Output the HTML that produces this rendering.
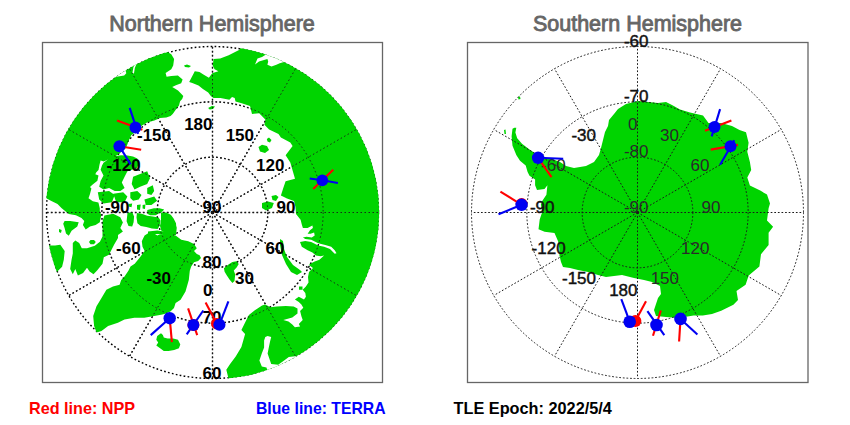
<!DOCTYPE html><html><head><meta charset="utf-8"><style>html,body{margin:0;padding:0;background:#fff;width:850px;height:425px;overflow:hidden}svg{display:block}text{font-family:"Liberation Sans",sans-serif}</style></head><body>
<svg width="850" height="425" viewBox="0 0 850 425">
<rect width="850" height="425" fill="#fff"/>
<g fill="none" stroke="#000" stroke-width="1.4" stroke-dasharray="1.7 2.3"><circle cx="212.5" cy="212.5" r="55.33"/><circle cx="212.5" cy="212.5" r="110.66"/><circle cx="212.5" cy="212.5" r="165.99"/><line x1="212.5" y1="212.5" x2="212.50" y2="378.49"/><line x1="212.5" y1="212.5" x2="295.50" y2="356.25"/><line x1="212.5" y1="212.5" x2="356.25" y2="295.50"/><line x1="212.5" y1="212.5" x2="378.49" y2="212.50"/><line x1="212.5" y1="212.5" x2="356.25" y2="129.51"/><line x1="212.5" y1="212.5" x2="295.50" y2="68.75"/><line x1="212.5" y1="212.5" x2="212.50" y2="46.51"/><line x1="212.5" y1="212.5" x2="129.50" y2="68.75"/><line x1="212.5" y1="212.5" x2="68.75" y2="129.50"/><line x1="212.5" y1="212.5" x2="46.51" y2="212.50"/><line x1="212.5" y1="212.5" x2="68.75" y2="295.50"/><line x1="212.5" y1="212.5" x2="129.50" y2="356.25"/></g>
<defs><clipPath id="cn"><circle cx="212.5" cy="212.5" r="166.7"/></clipPath><clipPath id="cs"><circle cx="637.5" cy="212.5" r="166.7"/></clipPath></defs>
<g clip-path="url(#cn)"><path fill="#00d400" d="M150.0,30.0 L160.0,53.3 L167.5,51.9 L171.3,54.2 L174.1,58.9 L173.2,65.5 L171.3,69.3 L165.6,73.1 L166.6,76.8 L171.3,75.9 L177.9,75.4 L182.6,79.6 L181.2,83.2 L175.9,85.3 L172.2,86.9 L174.8,88.5 L178.0,90.6 L181.2,93.8 L183.3,95.9 L182.2,99.0 L180.1,101.2 L179.0,105.4 L175.9,109.6 L172.7,113.9 L170.6,116.0 L166.3,117.6 L160.0,118.1 L154.4,120.4 L147.0,122.5 L141.7,125.7 L135.4,132.0 L131.2,135.2 L129.0,140.0 L126.0,148.0 L120.0,153.0 L115.4,156.3 L110.1,158.5 L103.8,161.6 L100.6,160.6 L99.5,164.8 L98.5,170.1 L96.3,172.2 L95.3,174.3 L98.5,175.4 L97.4,180.7 L92.1,184.9 L90.0,187.0 L91.4,188.5 L90.0,194.1 L88.5,198.3 L92.8,201.2 L98.4,202.6 L99.8,208.2 L99.8,211.0 L101.2,215.3 L99.8,222.3 L95.6,225.1 L90.0,226.5 L85.7,229.4 L82.9,225.1 L84.3,220.9 L81.5,218.1 L75.9,215.3 L68.8,213.9 L66.0,211.7 L61.7,208.2 L57.5,204.0 L51.9,201.2 L46.2,198.3 L20.0,198.0 L20.0,20.0Z M240.0,30.0 L240.0,49.5 L228.7,55.2 L220.2,58.5 L213.6,58.9 L212.7,65.5 L214.6,69.3 L218.4,71.2 L212.7,73.1 L211.7,74.1 L208.9,77.8 L204.2,74.9 L199.5,72.1 L194.8,71.2 L189.2,82.0 L192.3,82.9 L198.5,85.6 L202.9,89.1 L208.2,92.6 L210.8,96.1 L213.5,97.9 L220.5,97.9 L229.4,99.7 L232.0,97.0 L234.7,97.9 L235.5,101.4 L241.7,103.2 L250.0,106.0 L252.0,114.0 L259.2,113.3 L265.3,119.5 L264.4,124.7 L269.1,129.4 L278.5,134.1 L280.9,137.6 L290.3,142.4 L292.6,145.9 L285.6,155.3 L290.3,162.4 L292.6,170.6 L295.0,178.8 L285.6,181.2 L283.2,188.2 L280.9,195.5 L287.0,198.5 L294.0,201.0 L295.5,207.0 L296.0,214.0 L300.6,219.7 L301.8,224.4 L302.9,227.9 L307.6,227.9 L312.4,225.6 L312.9,227.9 L310.0,230.3 L307.6,233.8 L310.6,233.8 L314.1,232.6 L314.7,235.6 L311.8,237.4 L306.5,236.8 L302.9,237.4 L305.3,239.1 L311.2,239.7 L318.2,243.2 L325.3,245.0 L331.2,246.8 L334.7,250.3 L336.5,253.2 L334.7,253.8 L330.0,249.1 L324.1,246.8 L318.2,245.6 L311.2,242.1 L305.3,240.9 L300.0,242.1 L301.8,246.8 L307.6,250.3 L312.4,252.6 L315.9,255.6 L320.6,256.2 L324.1,255.6 L319.4,259.7 L314.7,261.5 L311.2,263.2 L308.8,265.0 L313.0,268.0 L309.0,272.0 L308.0,277.0 L308.5,282.6 L305.9,286.5 L302.7,289.7 L305.3,292.9 L305.9,296.8 L304.0,299.4 L298.8,296.8 L294.9,299.4 L298.8,302.0 L301.4,304.6 L303.3,307.8 L300.1,311.0 L301.4,316.2 L302.7,320.1 L298.8,324.0 L300.1,326.6 L294.9,327.2 L292.3,324.6 L288.5,321.4 L283.3,320.1 L292.3,317.5 L297.5,313.6 L297.5,308.5 L293.6,306.5 L285.9,305.9 L276.8,306.5 L270.3,307.2 L265.2,304.6 L262.1,305.6 L254.5,310.4 L248.9,315.1 L245.1,322.6 L241.4,330.1 L245.1,333.9 L241.4,347.1 L235.7,356.5 L230.1,364.0 L226.3,369.7 L228.2,377.2 L226.0,400.0 L420.0,400.0 L420.0,30.0Z M144.6,235.5 L148.9,232.7 L153.1,232.7 L157.3,235.5 L161.5,233.4 L168.6,234.1 L175.6,235.5 L181.3,239.7 L188.3,241.2 L194.0,244.0 L196.8,248.2 L194.0,251.0 L196.8,253.9 L199.6,255.3 L201.0,258.1 L198.2,260.9 L194.0,262.3 L191.2,266.5 L189.8,270.8 L188.8,279.9 L185.5,291.4 L180.6,299.7 L175.6,303.0 L174.0,307.9 L170.7,311.2 L166.0,313.5 L162.4,314.5 L154.2,316.1 L144.3,317.8 L134.4,317.8 L124.5,319.4 L117.9,322.7 L108.1,326.0 L101.5,331.0 L96.5,332.6 L94.1,326.0 L93.2,316.1 L96.5,306.2 L101.5,298.0 L106.4,289.8 L113.0,286.5 L119.6,284.8 L121.2,279.9 L124.5,276.6 L128.4,270.8 L130.5,266.5 L134.7,263.7 L140.4,256.7 L144.6,251.0 L142.5,246.8 L141.8,241.2 L143.2,238.3Z M157.2,336.0 L161.0,333.2 L162.9,335.1 L163.8,337.4 L167.6,338.4 L173.2,338.4 L178.0,339.8 L180.3,344.5 L178.9,348.2 L174.2,350.1 L168.5,351.1 L163.8,351.1 L160.1,348.2 L156.3,345.4 L158.2,342.6 L156.3,339.8Z M223.9,268.2 L228.1,264.7 L232.4,261.9 L236.6,261.2 L238.7,264.0 L236.6,267.5 L233.8,270.4 L235.2,274.6 L234.5,281.0 L232.4,283.1 L229.5,279.5 L226.7,275.3 L224.6,271.8Z M280.0,239.0 L283.0,241.0 L284.0,249.0 L287.0,257.0 L293.0,265.0 L300.0,270.0 L302.0,272.0 L297.0,275.0 L291.0,272.0 L286.0,264.0 L282.0,255.0 L280.0,245.0Z M262.0,203.0 L268.0,201.5 L273.8,203.0 L272.0,208.0 L266.0,210.6 L262.0,208.0Z M258.5,147.0 L262.0,144.7 L267.0,146.0 L269.0,150.0 L265.0,153.0 L260.0,151.5Z M266.8,139.0 L269.0,137.6 L271.5,140.0 L270.0,142.4 L267.5,141.5Z M271.5,196.0 L276.0,195.0 L278.5,197.0 L276.0,201.0 L272.5,200.0Z M208.1,108.0 L211.9,105.9 L215.0,106.5 L212.9,109.1 L209.7,109.6Z M184.0,65.5 L187.0,64.6 L191.0,66.0 L189.0,67.4 L185.0,67.0Z M20.0,245.6 L55.0,245.6 L60.3,244.7 L64.7,250.9 L63.8,259.7 L62.1,266.7 L56.8,272.0 L40.0,290.0 L20.0,290.0Z M64.6,220.9 L70.2,220.9 L78.7,222.3 L77.3,226.5 L71.6,230.8 L68.8,235.7 L66.0,233.6 L64.6,228.0 L63.2,223.7Z M59.0,229.0 L61.7,230.0 L61.0,233.0 L59.0,232.0Z M104.4,215.6 L113.2,213.8 L120.3,217.3 L122.9,222.6 L120.3,227.9 L122.9,231.5 L118.0,235.0 L118.0,237.9 L114.2,244.4 L109.0,254.8 L103.8,257.3 L102.5,263.8 L97.3,270.3 L93.5,274.2 L89.6,271.6 L87.0,267.7 L83.1,272.9 L77.9,275.5 L75.3,269.0 L72.8,274.2 L70.2,269.0 L71.5,259.9 L72.8,253.5 L72.8,243.1 L75.3,240.5 L79.2,243.1 L81.8,248.3 L87.0,248.3 L94.8,245.7 L99.9,241.8 L102.5,236.6 L102.5,230.2 L102.6,220.9Z M102.0,165.5 L103.5,162.7 L108.0,159.5 L114.7,156.3 L121.0,155.3 L127.4,155.6 L133.0,156.5 L137.3,158.5 L139.0,163.0 L137.0,168.0 L131.0,170.0 L127.4,171.2 L124.6,176.8 L121.8,182.4 L124.6,188.1 L120.4,190.9 L114.7,190.9 L109.1,188.1 L103.5,189.5 L99.2,186.7 L100.6,181.0 L103.5,175.4 L100.6,169.7Z M133.1,176.8 L140.1,174.0 L147.2,171.2 L150.0,178.2 L147.2,183.9 L140.1,186.7 L134.5,189.5 L131.7,183.9Z M130.3,192.3 L137.3,190.9 L141.5,195.1 L138.7,199.4 L133.1,200.8 L130.3,198.0Z M147.2,188.1 L152.8,185.3 L154.2,190.9 L151.4,195.1 L147.2,193.7Z M127.5,212.9 L132.2,212.0 L134.1,216.6 L133.6,222.3 L132.2,226.5 L128.5,226.0 L126.6,221.3 L127.1,216.6Z M136.9,212.9 L141.6,213.8 L147.3,215.7 L152.9,216.6 L158.6,217.6 L160.5,220.4 L159.5,226.0 L157.6,228.9 L152.0,228.4 L146.3,227.0 L140.7,226.0 L137.4,223.2 L136.5,217.6Z M147.3,210.0 L153.9,208.2 L159.5,208.2 L164.2,209.6 L162.3,211.5 L159.5,212.9 L155.7,215.2 L150.1,215.2 L147.3,213.8Z M161.0,212.4 L166.1,212.4 L170.8,214.8 L173.6,218.5 L176.0,223.2 L176.4,229.8 L174.6,233.1 L167.0,232.6 L161.4,230.7 L160.0,226.0 L161.0,220.4Z M148.0,231.5 L157.3,230.6 L167.2,232.0 L174.6,233.1 L177.0,225.6 L176.0,235.0 L160.0,234.0 L148.0,233.5Z M299.0,286.5 L302.5,286.5 L302.5,289.7 L299.0,289.7Z M142.6,205.0 L145.4,204.4 L145.0,209.1 L142.6,208.5Z M137.0,205.0 L140.7,204.4 L140.0,210.0 L137.0,209.5Z M128.5,204.0 L132.2,203.5 L131.5,207.2 L128.5,206.5Z M89.0,242.0 L90.5,240.0 L94.0,240.0 L95.8,242.0 L94.0,244.2 L90.5,244.2Z M144.4,199.4 L154.2,196.5 L157.1,200.8 L151.4,205.0 L145.8,205.0Z M97.8,192.3 L109.1,190.9 L114.7,195.1 L111.9,202.2 L103.5,203.6 L99.2,199.4Z M113.3,193.7 L123.2,192.3 L127.4,196.5 L124.6,202.2 L116.2,202.2Z"/>
<path fill="#fff" d="M267.6,335.9 L271.2,337.1 L270.0,341.8 L268.8,347.6 L267.6,353.5 L270.0,360.6 L271.2,364.1 L278.2,364.7 L284.1,360.6 L288.8,357.1 L297.1,355.9 L302.0,365.0 L270.0,380.0 L266.5,367.6 L261.8,366.5 L259.4,360.6 L261.8,353.5 L264.1,347.6 L264.1,340.6 L265.3,337.1Z M266.0,54.5 L262.0,57.0 L257.5,58.5 L255.0,64.5 L259.0,61.5 L267.4,59.1 L268.2,61.5 L267.4,64.8 L271.5,66.5 L276.4,64.8 L279.7,63.2 L284.0,62.0 L284.0,55.0 L270.0,50.0Z M110.0,79.0 L115.0,76.9 L124.2,75.5 L126.3,73.3 L125.6,70.5 L127.7,68.4 L132.6,65.6 L130.0,60.0 L105.0,70.0Z"/>
<g stroke="#fff" stroke-width="1.6" fill="none" stroke-linecap="round"><polyline points="135.5,64.2 134.1,67.7 133.3,72.6"/></g>
</g>
<g clip-path="url(#cs)"><path fill="#00d400" d="M514.4,127.8 L516.3,127.8 L515.4,132.5 L517.2,138.2 L522.0,143.8 L529.5,149.5 L535.1,153.2 L542.7,157.0 L552.1,158.9 L560.0,162.0 L566.0,166.0 L574.0,168.0 L586.0,166.0 L594.0,162.0 L599.0,155.0 L601.0,148.0 L603.0,140.0 L605.0,132.0 L608.0,126.0 L609.0,120.0 L614.0,114.0 L618.0,109.0 L626.0,104.0 L638.0,101.0 L648.0,102.0 L658.0,103.0 L666.0,102.0 L672.0,105.0 L680.0,109.5 L690.0,112.5 L703.0,115.5 L708.5,123.0 L721.0,123.0 L732.0,126.0 L739.5,130.0 L746.0,132.3 L748.6,142.7 L747.3,151.8 L749.9,162.1 L751.2,169.9 L747.3,177.6 L749.9,185.4 L760.2,190.6 L767.0,194.6 L770.0,203.5 L768.6,208.3 L767.0,220.6 L773.1,226.7 L768.6,232.8 L768.6,245.0 L761.0,254.2 L759.4,266.5 L748.7,275.6 L745.6,284.8 L736.5,290.9 L738.0,300.1 L733.4,304.7 L727.3,307.7 L721.2,310.8 L712.0,313.9 L702.8,315.4 L693.6,315.4 L684.5,317.0 L678.0,318.0 L666.0,317.0 L656.0,316.0 L654.0,310.0 L656.0,304.0 L658.0,298.0 L661.0,294.0 L660.0,286.0 L652.0,282.0 L644.0,280.0 L634.0,278.0 L622.0,275.0 L614.0,276.0 L606.0,277.0 L598.0,275.0 L588.0,272.0 L578.0,270.0 L570.0,268.0 L563.0,267.0 L561.0,262.0 L559.4,255.2 L559.4,249.0 L558.2,241.6 L554.5,233.0 L544.6,231.7 L538.5,229.3 L539.7,219.4 L542.2,212.0 L540.9,204.6 L542.7,200.3 L546.4,194.7 L547.4,185.3 L544.5,189.0 L537.0,190.0 L535.1,185.3 L535.1,179.6 L529.5,175.8 L527.6,172.1 L525.7,165.5 L520.0,160.8 L516.3,155.1 L512.5,145.7 L511.6,136.3 L512.5,128.8Z M518.0,97.0 L520.0,96.5 L520.5,99.0 L518.5,99.5Z M504.0,130.0 L505.5,129.5 L506.0,134.0 L504.5,134.0Z"/></g>
<g fill="none" stroke="#1a1a1a" stroke-width="0.9" stroke-dasharray="1.5 2.5"><circle cx="212.5" cy="212.5" r="55.33"/><circle cx="212.5" cy="212.5" r="110.66"/><line x1="212.5" y1="212.5" x2="212.50" y2="378.49"/><line x1="212.5" y1="212.5" x2="295.50" y2="356.25"/><line x1="212.5" y1="212.5" x2="356.25" y2="295.50"/><line x1="212.5" y1="212.5" x2="378.49" y2="212.50"/><line x1="212.5" y1="212.5" x2="356.25" y2="129.51"/><line x1="212.5" y1="212.5" x2="295.50" y2="68.75"/><line x1="212.5" y1="212.5" x2="212.50" y2="46.51"/><line x1="212.5" y1="212.5" x2="129.50" y2="68.75"/><line x1="212.5" y1="212.5" x2="68.75" y2="129.50"/><line x1="212.5" y1="212.5" x2="46.51" y2="212.50"/><line x1="212.5" y1="212.5" x2="68.75" y2="295.50"/><line x1="212.5" y1="212.5" x2="129.50" y2="356.25"/></g>
<g fill="none" stroke="#1a1a1a" stroke-width="1.0" stroke-dasharray="1.7 1.9"><circle cx="637.5" cy="212.5" r="55.33"/><circle cx="637.5" cy="212.5" r="110.66"/><circle cx="637.5" cy="212.5" r="165.99"/><line x1="637.5" y1="212.5" x2="637.50" y2="46.51"/><line x1="637.5" y1="212.5" x2="720.50" y2="68.75"/><line x1="637.5" y1="212.5" x2="781.25" y2="129.50"/><line x1="637.5" y1="212.5" x2="803.49" y2="212.50"/><line x1="637.5" y1="212.5" x2="781.25" y2="295.49"/><line x1="637.5" y1="212.5" x2="720.50" y2="356.25"/><line x1="637.5" y1="212.5" x2="637.50" y2="378.49"/><line x1="637.5" y1="212.5" x2="554.50" y2="356.25"/><line x1="637.5" y1="212.5" x2="493.75" y2="295.50"/><line x1="637.5" y1="212.5" x2="471.51" y2="212.50"/><line x1="637.5" y1="212.5" x2="493.75" y2="129.50"/><line x1="637.5" y1="212.5" x2="554.50" y2="68.75"/></g>
<rect x="42.5" y="42.5" width="340" height="340" fill="none" stroke="#666" stroke-width="1.3"/>
<rect x="467.5" y="42.5" width="340.5" height="340" fill="none" stroke="#666" stroke-width="1.3"/>
<text x="171.0" y="140.6" font-size="17" font-weight="bold" fill="#000" text-anchor="end">-150</text>
<text x="140.6" y="171.0" font-size="17" font-weight="bold" fill="#000" text-anchor="end">-120</text>
<text x="129.5" y="212.5" font-size="17" font-weight="bold" fill="#000" text-anchor="end">-90</text>
<text x="140.6" y="254.0" font-size="17" font-weight="bold" fill="#000" text-anchor="end">-60</text>
<text x="171.0" y="284.4" font-size="17" font-weight="bold" fill="#000" text-anchor="end">-30</text>
<text x="212.5" y="295.5" font-size="17" font-weight="bold" fill="#000" text-anchor="end">0</text>
<text x="254.0" y="284.4" font-size="17" font-weight="bold" fill="#000" text-anchor="end">30</text>
<text x="284.4" y="254.0" font-size="17" font-weight="bold" fill="#000" text-anchor="end">60</text>
<text x="295.5" y="212.5" font-size="17" font-weight="bold" fill="#000" text-anchor="end">90</text>
<text x="284.4" y="171.0" font-size="17" font-weight="bold" fill="#000" text-anchor="end">120</text>
<text x="254.0" y="140.6" font-size="17" font-weight="bold" fill="#000" text-anchor="end">150</text>
<text x="212.5" y="129.5" font-size="17" font-weight="bold" fill="#000" text-anchor="end">180</text>
<text x="221.5" y="212.5" font-size="17" font-weight="bold" fill="#000" text-anchor="end">90</text>
<text x="221.5" y="267.8" font-size="17" font-weight="bold" fill="#000" text-anchor="end">80</text>
<text x="221.5" y="323.2" font-size="17" font-weight="bold" fill="#000" text-anchor="end">70</text>
<text x="221.5" y="378.5" font-size="17" font-weight="bold" fill="#000" text-anchor="end">60</text>
<text x="596.0" y="284.4" font-size="17" fill="#111" stroke="#111" stroke-width="0.45" text-anchor="end">-150</text>
<text x="565.6" y="254.0" font-size="17" fill="#111" stroke="#111" stroke-width="0.45" text-anchor="end">-120</text>
<text x="554.5" y="212.5" font-size="17" fill="#111" stroke="#111" stroke-width="0.45" text-anchor="end">-90</text>
<text x="565.6" y="171.0" font-size="17" fill="#2a2a2a" text-anchor="end">-60</text>
<text x="596.0" y="140.6" font-size="17" fill="#111" stroke="#111" stroke-width="0.45" text-anchor="end">-30</text>
<text x="637.5" y="129.5" font-size="17" fill="#2a2a2a" text-anchor="end">0</text>
<text x="679.0" y="140.6" font-size="17" fill="#2a2a2a" text-anchor="end">30</text>
<text x="709.4" y="171.0" font-size="17" fill="#2a2a2a" text-anchor="end">60</text>
<text x="720.5" y="212.5" font-size="17" fill="#2a2a2a" text-anchor="end">90</text>
<text x="709.4" y="254.0" font-size="17" fill="#2a2a2a" text-anchor="end">120</text>
<text x="679.0" y="284.4" font-size="17" fill="#2a2a2a" text-anchor="end">150</text>
<text x="637.5" y="295.5" font-size="17" fill="#111" stroke="#111" stroke-width="0.45" text-anchor="end">180</text>
<text x="648.5" y="212.5" font-size="17" fill="#2a2a2a" text-anchor="end">-90</text>
<text x="648.5" y="157.2" font-size="17" fill="#2a2a2a" text-anchor="end">-80</text>
<text x="648.5" y="101.8" font-size="17" fill="#111" stroke="#111" stroke-width="0.45" text-anchor="end">-70</text>
<text x="648.5" y="46.5" font-size="17" fill="#111" stroke="#111" stroke-width="0.45" text-anchor="end">-60</text>
<g stroke-width="2.1" stroke-linecap="butt"><line x1="129.7" y1="107.8" x2="138.2" y2="133.9" stroke="#0000f2"/><line x1="117" y1="120.5" x2="142.4" y2="129.7" stroke="#ff0000"/><line x1="119.4" y1="146.2" x2="141.2" y2="149.7" stroke="#ff0000"/><line x1="119.4" y1="146.2" x2="130.6" y2="164.4" stroke="#0000f2"/><line x1="313.2" y1="189.1" x2="333.2" y2="169.7" stroke="#ff0000"/><line x1="309.7" y1="178.5" x2="322.3" y2="180.3" stroke="#0000f2"/><line x1="322.3" y1="180.3" x2="337.9" y2="183" stroke="#0000f2"/><line x1="169.7" y1="318.2" x2="150.7" y2="335.1" stroke="#0000f2"/><line x1="169.7" y1="318.2" x2="171.9" y2="342.2" stroke="#ff0000"/><line x1="188.1" y1="308.3" x2="197.2" y2="335.1" stroke="#ff0000"/><line x1="203.3" y1="310.5" x2="186.7" y2="334.4" stroke="#0000f2"/><line x1="205.6" y1="302.4" x2="216.7" y2="323.6" stroke="#ff0000"/><line x1="228.4" y1="301.4" x2="219.4" y2="324.7" stroke="#0000f2"/><line x1="538.1" y1="157.8" x2="563.2" y2="158.7" stroke="#0000f2"/><line x1="538.1" y1="157.8" x2="551.5" y2="177.1" stroke="#ff0000"/><line x1="500.4" y1="191.6" x2="521.6" y2="204.8" stroke="#ff0000"/><line x1="521.6" y1="204.8" x2="498.5" y2="214.2" stroke="#0000f2"/><line x1="720.1" y1="109.1" x2="711.7" y2="136.4" stroke="#0000f2"/><line x1="705" y1="130.8" x2="731.4" y2="120.4" stroke="#ff0000"/><line x1="710.7" y1="149.6" x2="738" y2="144.9" stroke="#ff0000"/><line x1="734.3" y1="140.2" x2="720.1" y2="164.7" stroke="#0000f2"/><line x1="621.3" y1="299.2" x2="629.7" y2="321.7" stroke="#0000f2"/><line x1="646" y1="301.3" x2="635.4" y2="321" stroke="#ff0000"/><line x1="647.4" y1="311.2" x2="664.3" y2="335.1" stroke="#0000f2"/><line x1="660.8" y1="310.5" x2="653" y2="335.8" stroke="#ff0000"/><line x1="680.5" y1="318.9" x2="679.1" y2="341.5" stroke="#ff0000"/><line x1="680.5" y1="318.9" x2="697.4" y2="334.4" stroke="#0000f2"/></g><g><circle cx="135.4" cy="127.5" r="5.9" fill="#0000f2"/><circle cx="119.4" cy="146.2" r="6.0" fill="#0000f2"/><circle cx="322.3" cy="180.3" r="5.9" fill="#0000f2"/><circle cx="169.7" cy="318.2" r="6.2" fill="#0000f2"/><circle cx="193.4" cy="325" r="6.0" fill="#ff0000"/><circle cx="193.4" cy="325" r="6.0" fill="#0000f2"/><circle cx="216.7" cy="323.6" r="5.7" fill="#ff0000"/><circle cx="219.4" cy="324.7" r="6.1" fill="#0000f2"/><circle cx="538.1" cy="157.8" r="6.2" fill="#0000f2"/><circle cx="521.6" cy="203.8" r="5.9" fill="#ff0000"/><circle cx="521.6" cy="204.8" r="6.2" fill="#0000f2"/><circle cx="714.5" cy="127" r="6.0" fill="#0000f2"/><circle cx="730.5" cy="146.2" r="6.0" fill="#0000f2"/><circle cx="635.4" cy="321" r="6.0" fill="#ff0000"/><circle cx="629.7" cy="321.7" r="6.3" fill="#0000f2"/><circle cx="656.5" cy="325" r="6.3" fill="#0000f2"/><circle cx="680.5" cy="318.9" r="6.3" fill="#0000f2"/></g>
<text x="212" y="31" font-size="21.5" fill="#666" stroke="#666" stroke-width="0.85" text-anchor="middle">Northern Hemisphere</text>
<text x="637.5" y="31" font-size="21.5" fill="#666" stroke="#666" stroke-width="0.85" text-anchor="middle">Southern Hemisphere</text>
<text x="29" y="413.5" font-size="16.2" font-weight="bold" fill="#f00">Red line: NPP</text>
<text x="256" y="413.5" font-size="15.75" font-weight="bold" fill="#00f">Blue line: TERRA</text>
<text x="453.5" y="413.5" font-size="16.3" font-weight="bold" fill="#000">TLE Epoch: 2022/5/4</text>
</svg></body></html>
